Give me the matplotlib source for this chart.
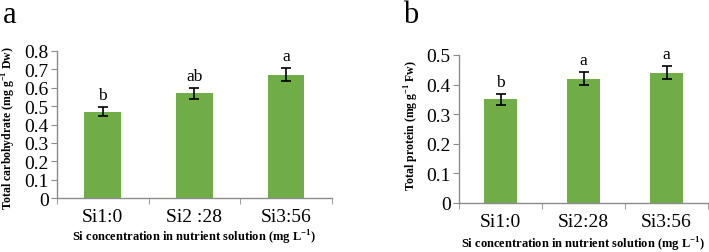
import matplotlib.pyplot as plt

plt.rcParams['font.family'] = ['Liberation Serif', 'DejaVu Serif']
plt.rcParams['mathtext.fontset'] = 'custom'
plt.rcParams['mathtext.rm'] = 'Liberation Serif'
plt.rcParams['mathtext.bf'] = 'Liberation Serif:bold'

cats_a = ['Si1:0', 'Si2 :28', 'Si3:56']
carb = [0.47, 0.57, 0.67]
carb_err = [0.025, 0.03, 0.035]
carb_sig = ['b', 'ab', 'a']

cats_b = ['Si1:0', 'Si2:28', 'Si3:56']
prot = [0.35, 0.42, 0.44]
prot_err = [0.018, 0.021, 0.022]
prot_sig = ['b', 'a', 'a']

green = '#70AD47'
grey = '#8c8c8c'

fig = plt.figure(figsize=(7.09, 2.53), dpi=100)
ax1 = fig.add_axes([0.0804, 0.2134, 0.3876, 0.5811])
ax2 = fig.add_axes([0.6474, 0.1937, 0.3512, 0.5850])


def draw(ax, cats, vals, errs, sig, ymax, step):
    x = range(len(cats))
    ax.bar(x, vals, width=0.4, color=green, zorder=2)
    ax.errorbar(x, vals, yerr=errs, fmt='none', ecolor='black',
                elinewidth=1.2, capsize=3.5, capthick=1.2, zorder=3)
    for xi, v, e, s in zip(x, vals, errs, sig):
        ax.annotate(s, (xi, v + e), xytext=(0, 3), textcoords='offset points',
                    ha='center', va='bottom', fontsize=12.5)
    ax.set_xlim(-0.5, len(cats) - 0.5)
    ax.set_ylim(0, ymax)
    n = int(round(ymax / step))
    ticks = [i * step for i in range(n + 1)]
    ax.set_yticks(ticks)
    ax.set_yticklabels(['0'] + ['%.1f' % t for t in ticks[1:]])
    ax.set_xticks(list(x))
    ax.set_xticklabels(cats)
    ax.set_xticks([i - 0.5 for i in range(len(cats) + 1)], minor=True)
    ax.tick_params(axis='x', which='major', length=0, pad=7, labelsize=14)
    ax.tick_params(axis='x', which='minor', length=4, color=grey, direction='out')
    ax.tick_params(axis='y', length=4, color=grey, direction='out', pad=2, labelsize=14)
    for sp in ['top', 'right']:
        ax.spines[sp].set_visible(False)
    for sp in ['left', 'bottom']:
        ax.spines[sp].set_color(grey)
        ax.spines[sp].set_linewidth(1.0)


draw(ax1, cats_a, carb, carb_err, carb_sig, 0.8, 0.1)
draw(ax2, cats_b, prot, prot_err, prot_sig, 0.5, 0.1)

sup = r'$^{\mathbf{-1}}$'
fig.text(9 / 709, 1 - 128 / 253, 'Total carbohydrate (mg g' + sup + ' Dw)', rotation=90,
         ha='center', va='center', fontsize=8.5, fontweight='bold')
fig.text(194 / 709, 1 - 238 / 253, 'Si concentration in nutrient solution (mg L' + sup + ')',
         ha='center', va='center', fontsize=9, fontweight='bold')
fig.text(412 / 709, 1 - 126 / 253, 'Total protein (mg g' + sup + ' Fw)', rotation=90,
         ha='center', va='center', fontsize=8.5, fontweight='bold')
fig.text(583 / 709, 1 - 245 / 253, 'Si concentration in nutrient solution (mg L' + sup + ')',
         ha='center', va='center', fontsize=9, fontweight='bold')

fig.text(3 / 709, 1 - 23 / 253, 'a', fontsize=22, ha='left', va='baseline')
fig.text(403 / 709, 1 - 23 / 253, 'b', fontsize=22, ha='left', va='baseline')

fig.savefig('out.png', dpi=100)
